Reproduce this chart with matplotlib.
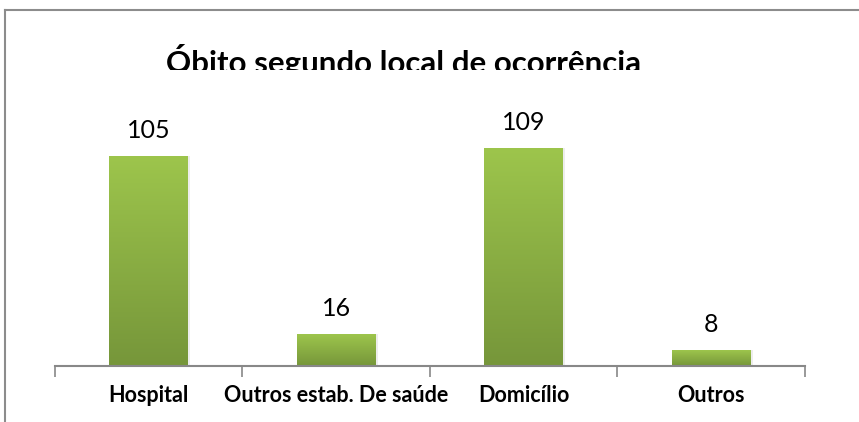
import matplotlib
matplotlib.use("Agg")
import matplotlib.pyplot as plt
import numpy as np
from matplotlib.colors import LinearSegmentedColormap
from matplotlib.lines import Line2D
from matplotlib.patches import Rectangle

categories = ["Hospital", "Outros estab. De saúde", "Domicílio", "Outros"]
values = [105, 16, 109, 8]
title = "Óbito segundo local de ocorrência"

plt.rcParams['font.family'] = ['Lato', 'DejaVu Sans']

fig = plt.figure(figsize=(8.59, 4.22), dpi=100)
ax = fig.add_axes([0.064, 0.1327, 0.873, 0.5687])

x = np.arange(len(categories))
bars = ax.bar(x, values, width=0.42, color='none', edgecolor='none')

cmap = LinearSegmentedColormap.from_list("g", ["#76963a", "#9dc54c"])
grad = np.linspace(0, 1, 256).reshape(-1, 1)
for b in bars:
    x0, y0 = b.get_x(), b.get_y()
    w, h = b.get_width(), b.get_height()
    # soft shadow
    ax.add_patch(Rectangle((x0 + 0.012, y0), w, h, facecolor='#cccccc', alpha=0.35,
                           edgecolor='none', zorder=1))
    ax.imshow(grad, extent=(x0, x0 + w, y0, y0 + h), origin='lower', cmap=cmap,
              aspect='auto', zorder=2)

for xi, v in zip(x, values):
    ax.text(xi, v + 9, str(v), ha='center', va='baseline', fontsize=18, color='#000000')

ax.set_xlim(-0.5, 3.5)
ax.set_ylim(0, 120)
ax.set_xticks(x)
ax.set_xticklabels(categories, fontsize=15.5, fontweight='bold')
ax.tick_params(axis='x', which='major', length=0, pad=14)
ax.set_xticks(np.arange(-0.5, 4.0, 1.0), minor=True)
ax.tick_params(axis='x', which='minor', length=8, color='#888888', width=1.2)
ax.set_yticks([])
for s in ['top', 'right', 'left']:
    ax.spines[s].set_visible(False)
ax.spines['bottom'].set_color('#888888')
ax.spines['bottom'].set_linewidth(1.5)

fig.text(404 / 859, 1 - 73 / 422, title, ha='center', va='baseline',
         fontsize=22.5, fontweight='bold', color='#000000')
# clip the bottom of the title like the reference
fig.add_artist(Rectangle((0.01, 1 - 84 / 422), 0.95, 14 / 422, transform=fig.transFigure,
                         facecolor='white', edgecolor='none', zorder=5))

# outer chart frame (top and left only visible)
fig.add_artist(Line2D([5 / 859, 1], [1 - 10 / 422, 1 - 10 / 422], transform=fig.transFigure,
                      color='#8c8c8c', linewidth=1.5))
fig.add_artist(Line2D([5 / 859, 5 / 859], [0, 1 - 10 / 422], transform=fig.transFigure,
                      color='#8c8c8c', linewidth=1.5))

fig.savefig("out.png", dpi=100, facecolor='white')
